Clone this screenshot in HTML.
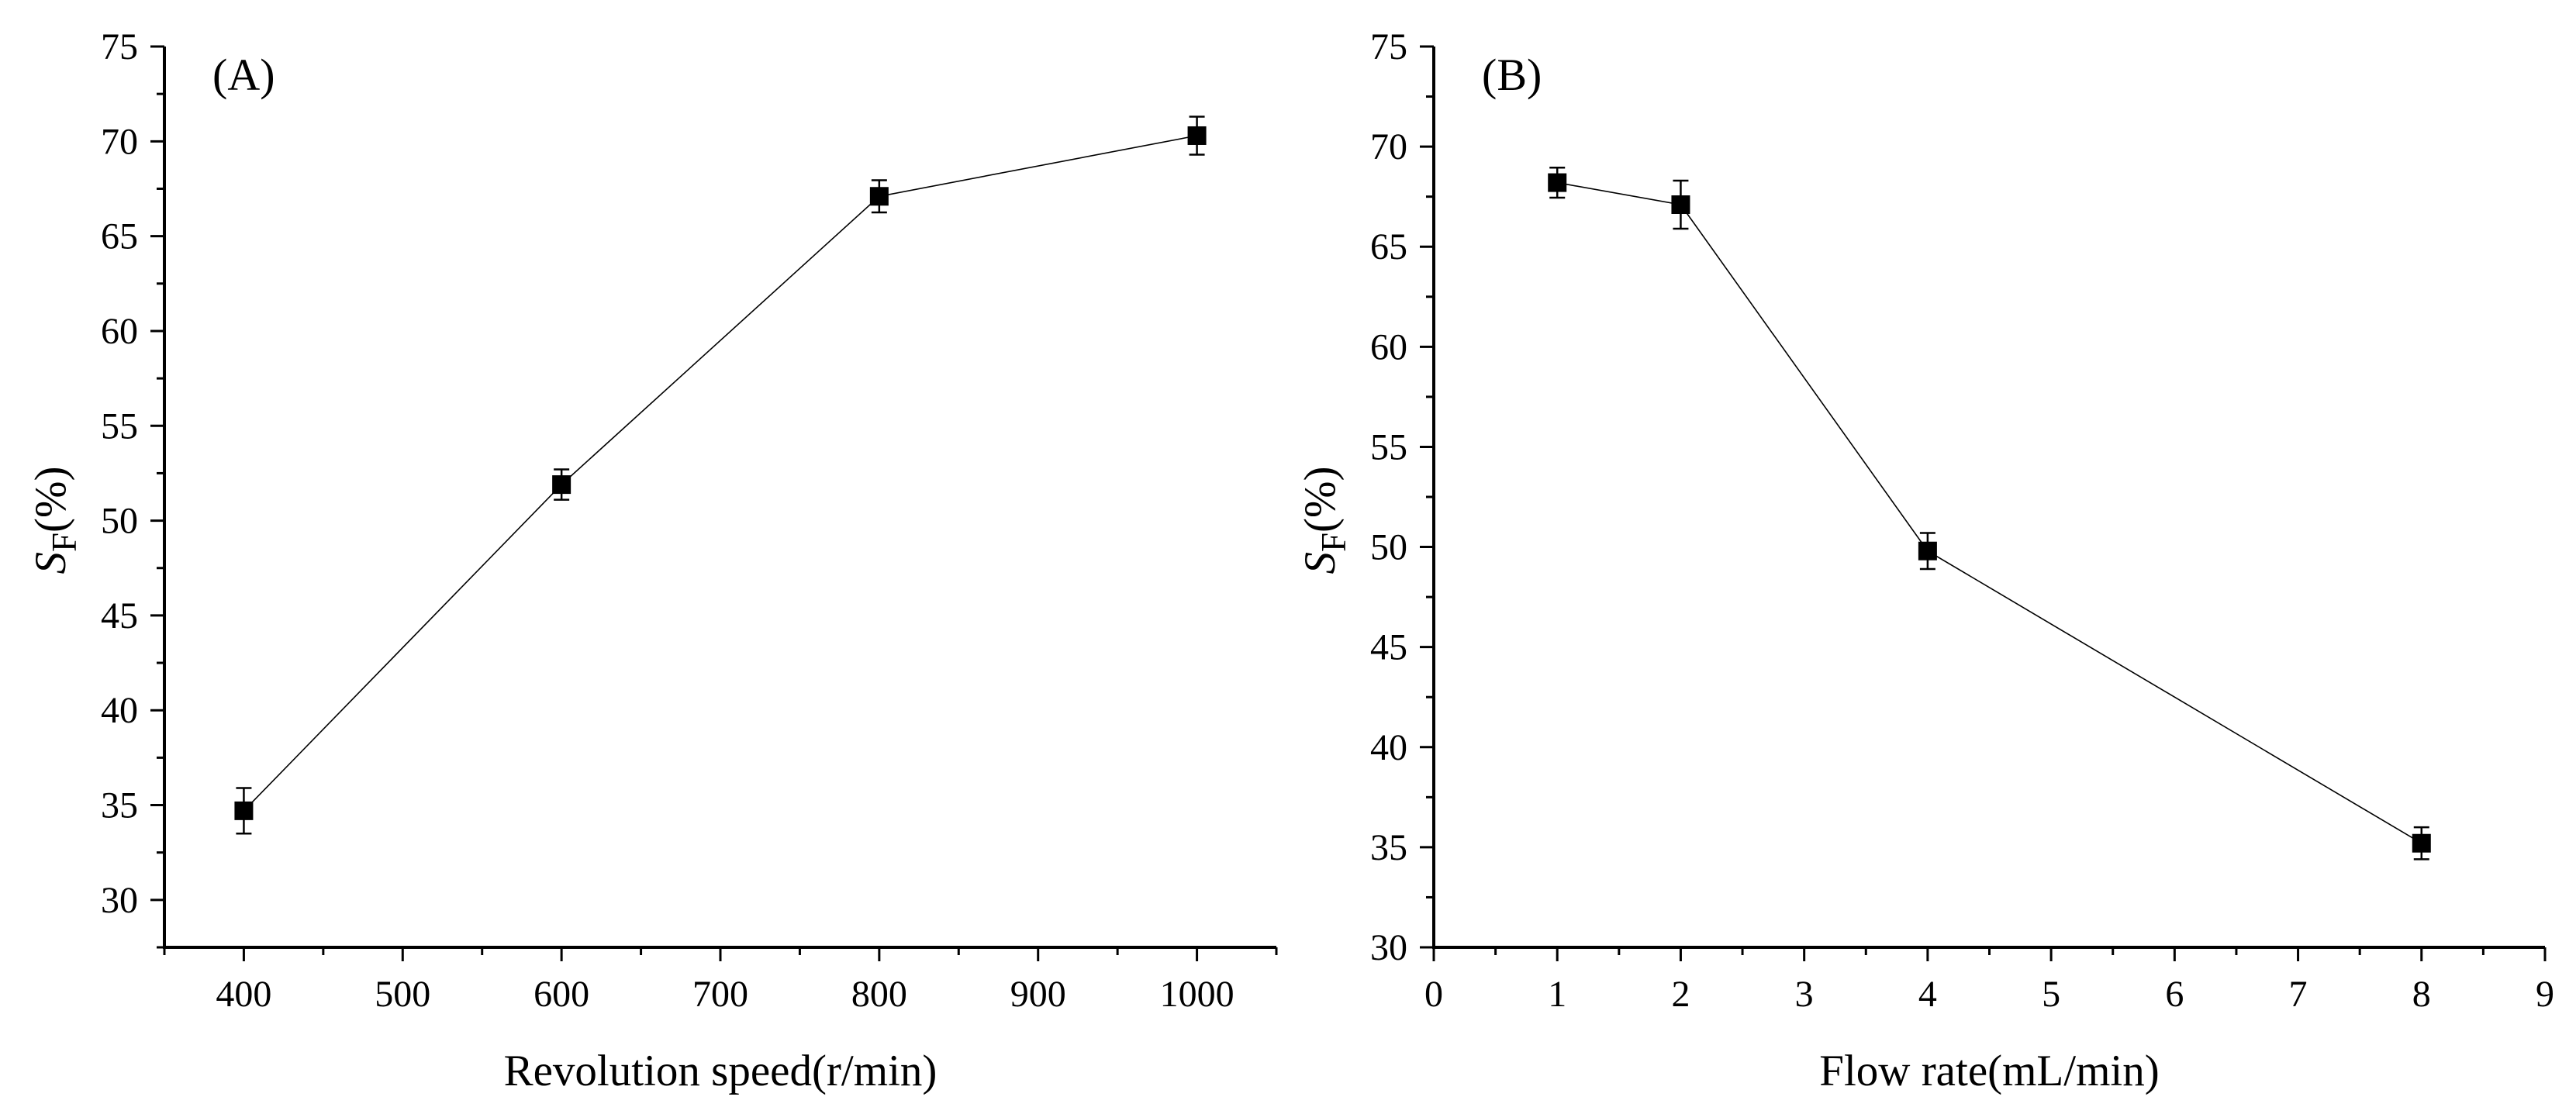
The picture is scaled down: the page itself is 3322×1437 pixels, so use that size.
<!DOCTYPE html>
<html><head><meta charset="utf-8"><style>
html,body{margin:0;padding:0;background:#fff;}
svg{display:block;font-family:"Liberation Serif",serif;}
</style></head><body>
<svg id="chart" width="3322" height="1437" viewBox="0 0 3322 1437" xmlns="http://www.w3.org/2000/svg"></svg>
<script>
const catsA = [400, 600, 800, 1000];
const valsA = [34.7, 51.9, 67.1, 70.3];
const errA = [1.2, 0.8, 0.85, 1.0];
const xTicksA = [400, 500, 600, 700, 800, 900, 1000];
const catsB = [1, 2, 4, 8];
const valsB = [68.2, 67.1, 49.8, 35.2];
const errB = [0.75, 1.2, 0.9, 0.8];
const xTicksB = [0, 1, 2, 3, 4, 5, 6, 7, 8, 9];
const yTicks = [30, 35, 40, 45, 50, 55, 60, 65, 70, 75];

const NS = "http://www.w3.org/2000/svg";
const svg = document.getElementById('chart');
function mk(tag, attrs, parent) {
  const e = document.createElementNS(NS, tag);
  for (const k in attrs) e.setAttribute(k, attrs[k]);
  (parent || svg).appendChild(e);
  return e;
}
function panel(cfg) {
  const g = mk('g', {});
  
  
  const X = v => cfg.x0 + (v - cfg.xmin) / (cfg.xmax - cfg.xmin) * (cfg.x1 - cfg.x0);
  const Y = v => cfg.yb - (v - cfg.ymin) / (75 - cfg.ymin) * (cfg.yb - cfg.yt);
  const axes = mk('path', {d: `M${cfg.x0},${cfg.yt} L${cfg.x0},${cfg.yb} L${cfg.x1},${cfg.yb}`, fill: 'none', stroke: '#000', 'stroke-width': 4}, g);
  
  
  for (let v = cfg.ymin; v <= 75.001; v += 2.5) {
    const major = Math.abs(v % 5) < 0.01;
    const t = mk('line', {x1: cfg.x0, x2: cfg.x0 - (major ? 18 : 10), y1: Y(v), y2: Y(v), stroke: '#000', 'stroke-width': 3}, g);
    
    
  }
  yTicks.forEach(v => {
    if (v < cfg.ymin) return;
    const t = mk('text', {x: cfg.x0 - 34, y: Y(v) + 16, 'text-anchor': 'end', 'font-size': 48}, g);
    t.textContent = v;
    
    
  });
  const step = cfg.minorStep;
  for (let v = cfg.xmin; v <= cfg.xmax + 1e-6; v += step) {
    const major = Math.abs(Math.round(v / cfg.majorStep) * cfg.majorStep - v) < 1e-6;
    const t = mk('line', {x1: X(v), x2: X(v), y1: cfg.yb, y2: cfg.yb + (major ? 18 : 10), stroke: '#000', 'stroke-width': 3}, g);
    
    
  }
  cfg.xTicks.forEach(v => {
    const t = mk('text', {x: X(v), y: 1298, 'text-anchor': 'middle', 'font-size': 48}, g);
    t.textContent = v;
    
    
  });
  const pts = cfg.cats.map((c, i) => X(c) + ',' + Y(cfg.vals[i])).join(' ');
  const pl = mk('polyline', {points: pts, fill: 'none', stroke: '#000', 'stroke-width': 1.6}, g);
  
  
  cfg.cats.forEach((c, i) => {
    const cx = X(c), cy = Y(cfg.vals[i]);
    const hi = Y(cfg.vals[i] + cfg.errs[i]), lo = Y(cfg.vals[i] - cfg.errs[i]);
    const eb = mk('path', {d: `M${cx},${hi} L${cx},${lo} M${cx-10},${hi} L${cx+10},${hi} M${cx-10},${lo} L${cx+10},${lo}`, stroke: '#000', 'stroke-width': 2.5, fill: 'none'}, g);
    
    
    const m = mk('rect', {x: cx - 12, y: cy - 12, width: 24, height: 24, fill: '#000'}, g);
    
    
  });
  const lab = mk('text', {x: cfg.x0 + 62, y: 116, 'font-size': 58}, g);
  lab.textContent = cfg.label;
  
  
  const xt = mk('text', {x: (cfg.x0 + cfg.x1) / 2, y: 1400, 'text-anchor': 'middle', 'font-size': 57}, g);
  xt.textContent = cfg.xTitle;
  
  
  const yt = mk('text', {transform: `translate(${cfg.x0 - 128},${(cfg.yt + cfg.yb) / 2 + 30}) rotate(-90)`, 'text-anchor': 'middle', 'font-size': 57}, g);
  
  
  const s1 = mk('tspan', {'font-style': 'italic'}, yt); s1.textContent = 'S';
  const s2 = mk('tspan', {dy: 14, 'font-size': 45}, yt); s2.textContent = 'F';
  const s3 = mk('tspan', {dy: -14}, yt); s3.textContent = '(%)';
}
panel({name: 'panel-a', x0: 212, x1: 1646, yt: 60, yb: 1222, ymin: 27.5, xmin: 350, xmax: 1050, minorStep: 50, majorStep: 100,
  xTicks: xTicksA, cats: catsA, vals: valsA, errs: errA, label: '(A)', xTitle: 'Revolution speed(r/min)'});
panel({name: 'panel-b', x0: 1849, x1: 3282, yt: 60, yb: 1222, ymin: 30, xmin: 0, xmax: 9, minorStep: 0.5, majorStep: 1,
  xTicks: xTicksB, cats: catsB, vals: valsB, errs: errB, label: '(B)', xTitle: 'Flow rate(mL/min)'});
</script>
</body></html>
